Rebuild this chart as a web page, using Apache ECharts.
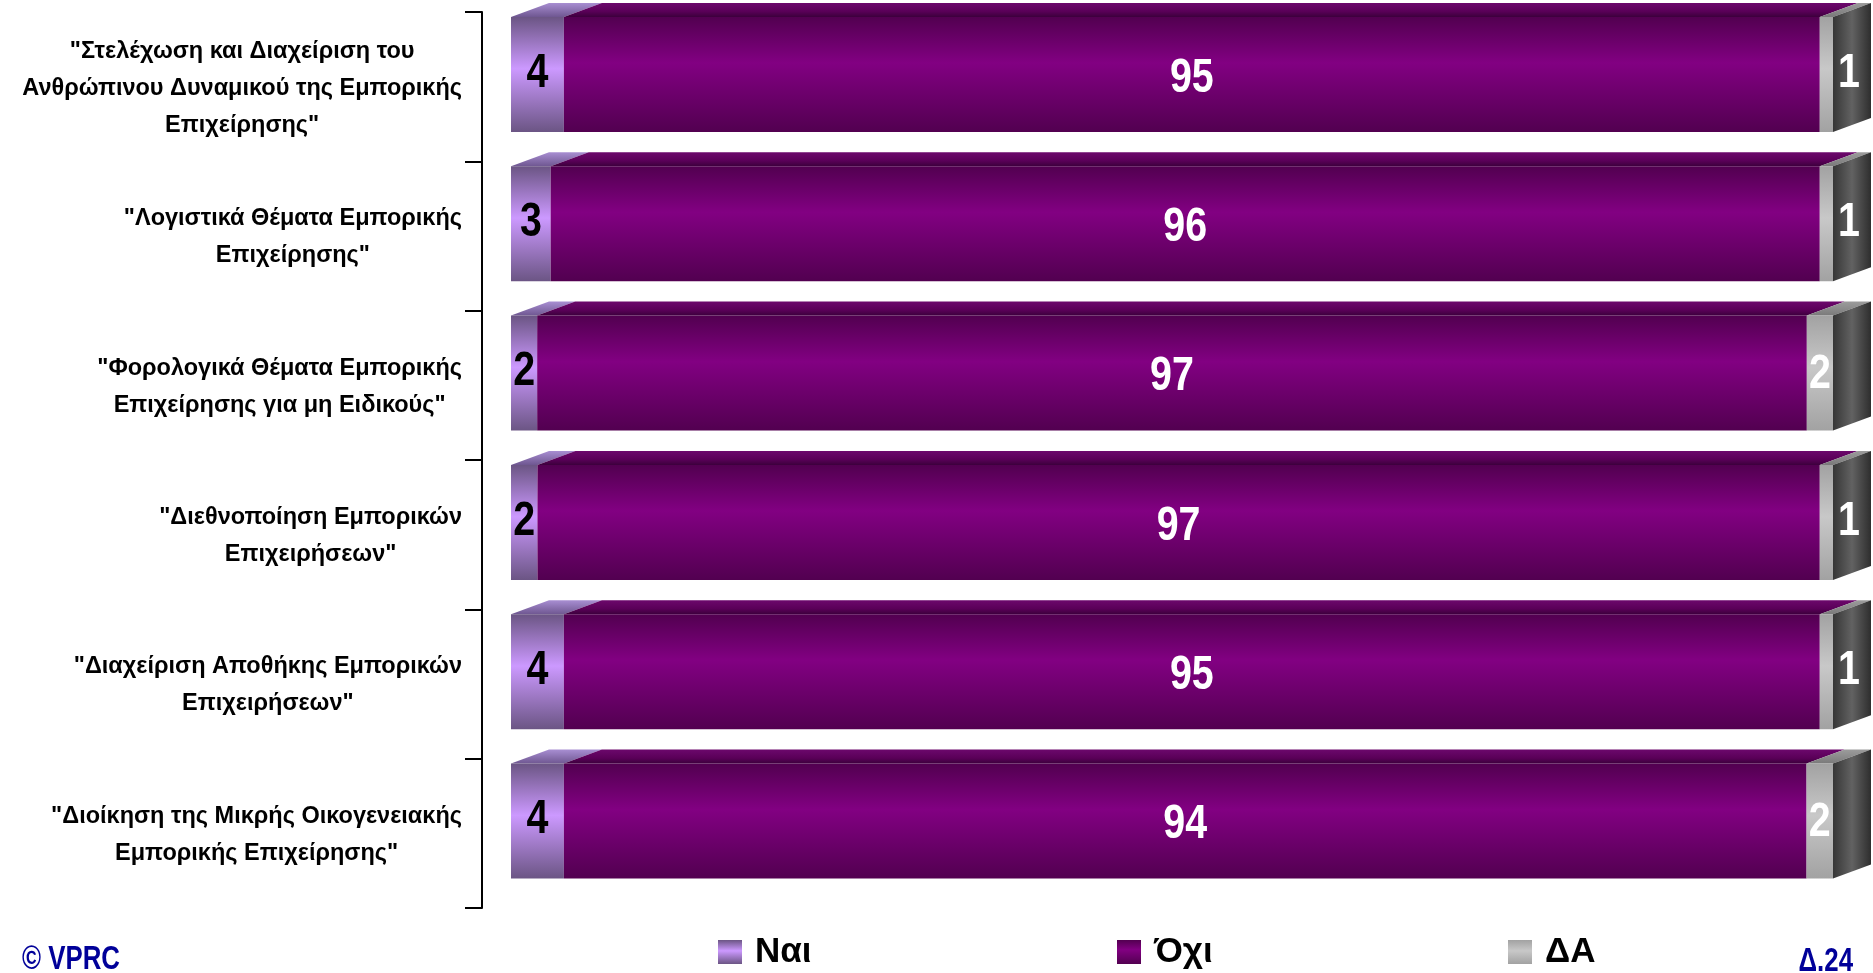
<!DOCTYPE html>
<html>
<head>
<meta charset="utf-8">
<script src="https://cdn.jsdelivr.net/npm/echarts@6/dist/echarts.min.js"></script>
<style>
  html, body { margin: 0; padding: 0; background: #fff; }
  #main { width: 1873px; height: 973px; }
</style>
</head>
<body>
<div id="main"></div>
<script>
  var categories = [
    '"Στελέχωση και Διαχείριση του\nΑνθρώπινου Δυναμικού της Εμπορικής\nΕπιχείρησης"',
    '"Λογιστικά Θέματα Εμπορικής\nΕπιχείρησης"',
    '"Φορολογικά Θέματα Εμπορικής\nΕπιχείρησης για μη Ειδικούς"',
    '"Διεθνοποίηση Εμπορικών\nΕπιχειρήσεων"',
    '"Διαχείριση Αποθήκης Εμπορικών\nΕπιχειρήσεων"',
    '"Διοίκηση της Μικρής Οικογενειακής\nΕμπορικής Επιχείρησης"'
  ];
  var seriesNames = ['Ναι', 'Όχι', 'ΔΑ'];
  var yesData = [4, 3, 2, 2, 4, 4];
  var noData = [95, 96, 97, 97, 95, 94];
  var dkData = [1, 1, 2, 1, 1, 2];

  var sans = "'Liberation Sans', Arial, sans-serif";
  var squeeze = 0.76; // the original uses Arial Narrow, so the text is squeezed

  function grad(stops, horizontal) {
    return new echarts.graphic.LinearGradient(0, 0, horizontal ? 1 : 0, horizontal ? 0 : 1,
      stops.map(function (s) { return {offset: s[0], color: s[1]}; }));
  }

  var looks = [
    {
      front: [[0, '#6b5584'], [0.45, '#cc99ff'], [1, '#6b5584']],
      top: [[0, '#a88ed2'], [1, '#6f5791']],
      label: '#000',
      dy: -1
    },
    {
      front: [[0, '#520050'], [0.4, '#820082'], [1, '#520050']],
      top: [[0, '#6c086c'], [0.6, '#5a0058'], [1, '#3c003c']],
      label: '#fff',
      dy: 4
    },
    {
      front: [[0, '#a2a2a2'], [0.45, '#c8c8c8'], [1, '#a2a2a2']],
      top: [[0, '#9c9c9c'], [1, '#7a7a7a']],
      side: [[0, '#363636'], [0.5, '#626262'], [1, '#2e2e2e']],
      label: '#fff',
      dy: 2
    }
  ];

  // 100% stacked: every row is scaled to its own total
  var allData = [yesData, noData, dkData];
  function segments(k) {
    return categories.map(function (c, i) {
      var total = yesData[i] + noData[i] + dkData[i];
      var before = 0;
      for (var j = 0; j < k; j++) before += allData[j][i];
      return [before / total * 100, (before + allData[k][i]) / total * 100, i, allData[k][i]];
    });
  }

  var depthX = 38, depthY = 14;

  function makeRender(k) {
    var look = looks[k];
    var last = k === allData.length - 1;
    return function (params, api) {
      var p0 = api.coord([api.value(0), api.value(2)]);
      var p1 = api.coord([api.value(1), api.value(2)]);
      var band = api.size([0, 1])[1];
      var h = band * 0.77;
      var yc = p0[1] - band * 0.082;
      var yt = yc - h / 2;
      var x0 = p0[0], x1 = p1[0];
      var kids = [];
      kids.push({
        type: 'polygon',
        shape: {points: [[x0, yt], [x1, yt], [x1 + depthX, yt - depthY], [x0 + depthX, yt - depthY]]},
        style: {fill: grad(look.top)}
      });
      kids.push({
        type: 'rect',
        shape: {x: x0, y: yt, width: x1 - x0, height: h},
        style: {fill: grad(look.front)}
      });
      var lx = (x0 + x1) / 2;
      var ly = yc + look.dy;
      if (last) {
        kids.push({
          type: 'polygon',
          shape: {points: [[x1, yt], [x1 + depthX, yt - depthY], [x1 + depthX, yt + h - depthY], [x1, yt + h]]},
          style: {fill: grad(look.side, true)}
        });
        if (x1 - x0 < 20) {
          lx = x1 + depthX / 2 - 3;
          ly = yc - depthY / 2 + 6;
        }
      }
      kids.push({
        type: 'text',
        x: lx,
        y: ly,
        scaleX: 0.82,
        style: {
          x: 0, y: 0, text: String(api.value(3)),
          fill: look.label, font: 'bold 48px ' + sans,
          align: 'center', verticalAlign: 'middle'
        }
      });
      return {type: 'group', children: kids};
    };
  }

  var chart = echarts.init(document.getElementById('main'));

  var series = seriesNames.map(function (name, k) {
    return {
      name: name,
      type: 'custom',
      renderItem: makeRender(k),
      encode: {x: [0, 1], y: 2},
      itemStyle: {color: grad(looks[k].front)},
      data: segments(k)
    };
  });

  var legendLeft = [718, 1117, 1508];
  var legends = seriesNames.map(function (name, k) {
    return {
      data: [name],
      left: legendLeft[k],
      top: 932,
      padding: 0,
      icon: 'rect',
      itemWidth: 24,
      itemHeight: 24,
      selectedMode: false,
      textStyle: {
        fontSize: 35, fontWeight: 'bold', fontFamily: sans, color: '#000',
        lineHeight: 40, padding: [0, 0, 0, 8]
      }
    };
  });

  var option = {
    backgroundColor: '#fff',
    animation: false,
    grid: {left: 511, right: 40, top: 12, bottom: 65},
    xAxis: {type: 'value', min: 0, max: 100, show: false},
    yAxis: {
      type: 'category',
      inverse: true,
      data: categories,
      offset: 29,
      axisLine: {show: true, onZero: false, lineStyle: {color: '#000', width: 2}},
      axisTick: {show: true, interval: 0, alignWithLabel: false, length: 17, lineStyle: {color: '#000', width: 2}},
      splitLine: {show: false},
      axisLabel: {
        interval: 0,
        margin: 20,
        align: 'right',
        padding: [3, 0, 0, 0],
        formatter: function (v) {
          return v.split('\n').map(function (l) { return '{a|' + l + '}'; }).join('\n');
        },
        rich: {
          a: {align: 'center', fontSize: 23.5, fontWeight: 'bold', fontFamily: sans, color: '#000', lineHeight: 37}
        }
      }
    },
    legend: legends,
    graphic: [
      {
        type: 'text', x: 22, y: 977, scaleX: squeeze,
        style: {x: 0, y: 0, text: '© VPRC', fill: '#000099', font: 'bold 34px ' + sans, align: 'left', verticalAlign: 'bottom'}
      },
      {
        type: 'text', x: 1853, y: 979, scaleX: squeeze,
        style: {x: 0, y: 0, text: 'Δ.24', fill: '#000099', font: 'bold 34px ' + sans, align: 'right', verticalAlign: 'bottom'}
      }
    ],
    series: series
  };

  option && chart.setOption(option);
</script>
</body>
</html>
